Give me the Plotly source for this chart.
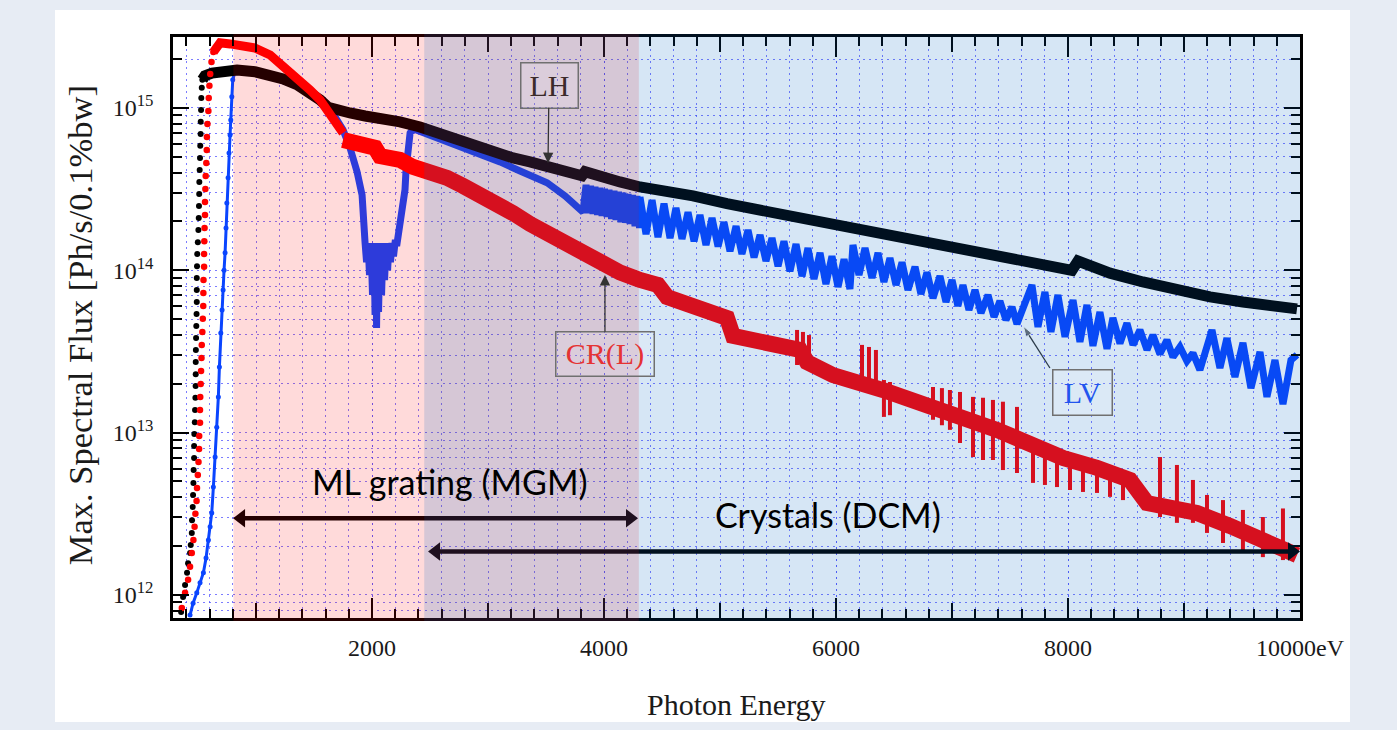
import plotly.graph_objects as go

# ---------------- data (photon energy in eV, flux in Ph/s/0.1%bw) ----------------
# LH (black)
lh_rise_energy = [354, 371, 388, 405, 414, 431, 437, 446, 448, 454,
                  457, 460, 462, 466, 466, 468, 472, 474, 477, 479,
                  480, 480, 481, 483, 485, 487, 489, 489, 489, 491,
                  493, 498, 503, 506, 508, 510, 511, 514, 517, 519,
                  522, 523, 526, 528, 532, 537]
lh_rise_flux = [7.85e11, 9.72e11, 1.15e12, 1.37e12, 1.57e12, 1.81e12, 2.03e12, 2.41e12, 2.89e12, 3.48e12,
                4.13e12, 4.90e12, 5.88e12, 6.98e12, 8.27e12, 9.80e12, 1.16e13, 1.38e13, 1.64e13, 1.94e13,
                2.29e13, 2.72e13, 3.23e13, 3.82e13, 4.53e13, 5.38e13, 6.38e13, 7.56e13, 8.96e13, 1.06e14,
                1.26e14, 1.49e14, 1.77e14, 2.10e14, 2.49e14, 2.95e14, 3.50e14, 4.15e14, 4.92e14, 5.84e14,
                6.92e14, 8.21e14, 9.72e14, 1.15e15, 1.33e15, 1.49e15]
lh_energy = [537, 560, 621, 707, 836, 991, 1121, 1233, 1353, 1466,
             1552, 1621, 1681, 1810, 1940, 2069, 2241, 2414, 2586, 2784,
             3017, 3215, 3362, 3509, 3664, 3810, 3836, 3965, 4138, 4310,
             4483, 4767, 5060, 5345, 5629, 5922, 6207, 6491, 6784, 7069,
             7353, 7646, 7931, 8034, 8086, 8189, 8362, 8646, 8939, 9224,
             9508, 9801, 9974]
lh_flux = [1.49e15, 1.58e15, 1.64e15, 1.69e15, 1.71e15, 1.67e15, 1.60e15, 1.51e15, 1.39e15, 1.24e15,
           1.12e15, 1.01e15, 9.72e14, 9.31e14, 8.92e14, 8.66e14, 8.21e14, 7.64e14, 6.92e14, 6.17e14,
           5.35e14, 4.92e14, 4.65e14, 4.40e14, 4.10e14, 3.82e14, 4.05e14, 3.76e14, 3.50e14, 3.26e14,
           3.13e14, 2.87e14, 2.57e14, 2.35e14, 2.16e14, 1.97e14, 1.80e14, 1.63e14, 1.47e14, 1.35e14,
           1.24e14, 1.14e14, 1.03e14, 1.00e14, 1.14e14, 1.06e14, 9.6e13, 8.47e13, 7.56e13, 6.85e13,
           6.38e13, 6.03e13, 5.78e13]

# CR(L) (red)
cr_rise_energy = [360, 388, 414, 431, 446, 460, 470, 477, 487, 491,
                  498, 504, 509, 510, 517, 517, 519, 523, 526, 530,
                  532, 537, 541, 545, 546, 547, 552, 552, 554, 556,
                  560, 560, 563, 566, 571, 575, 576, 581, 589, 592,
                  598, 605, 616, 632]
cr_rise_flux = [8.3e11, 1.03e12, 1.24e12, 1.49e12, 1.81e12, 2.18e12, 2.63e12, 3.16e12, 3.79e12, 4.56e12,
                5.48e12, 6.59e12, 7.93e12, 9.54e12, 1.15e13, 1.38e13, 1.66e13, 1.99e13, 2.40e13, 2.88e13,
                3.47e13, 4.17e13, 5.02e13, 6.02e13, 7.25e13, 8.71e13, 1.05e14, 1.26e14, 1.51e14, 1.82e14,
                2.19e14, 2.63e14, 3.17e14, 3.81e14, 4.58e14, 5.51e14, 6.63e14, 7.97e14, 9.58e14, 1.15e15,
                1.37e15, 1.62e15, 1.92e15, 2.21e15]
cr_top_energy = [632, 664, 690, 776, 862, 991, 1121, 1233, 1353, 1466, 1552, 1612, 1681, 1724, 1750]
cr_top_flux = [2.21e15, 2.44e15, 2.52e15, 2.48e15, 2.44e15, 2.34e15, 2.12e15, 1.81e15, 1.55e15, 1.29e15,
               1.12e15, 9.72e14, 8.44e14, 7.64e14, 7.01e14]
cr_band_energy = [1750, 1828, 1922, 2026, 2069, 2241, 2353, 2500, 2647, 2784,
                  2931, 3078, 3215, 3362, 3509, 3646, 3793, 3965, 4138, 4310,
                  4465, 4543, 4827, 5060, 5112, 5405, 5689, 5750, 5974, 6405,
                  6836, 7094, 7388, 7672, 7956, 8250, 8534, 8681, 8819, 9112,
                  9396, 9681, 9914, 9974]
cr_band_flux = [6.35e14, 6.17e14, 5.92e14, 5.68e14, 5.06e14, 4.78e14, 4.33e14, 4.04e14, 3.71e14, 3.31e14,
                2.95e14, 2.63e14, 2.25e14, 1.93e14, 1.68e14, 1.49e14, 1.31e14, 1.08e14, 9.7e13, 8.71e13,
                8.11e13, 6.85e13, 5.69e13, 5.08e13, 3.94e13, 3.57e13, 3.23e13, 2.72e13, 2.26e13, 1.83e13,
                1.48e13, 1.23e13, 1.04e13, 8.39e12, 6.98e12, 6.06e12, 5.11e12, 3.68e12, 3.48e12, 3.20e12,
                2.66e12, 2.18e12, 1.84e12, 1.76e12]
cr_spike_energy = [5664, 5715, 5767, 6224, 6284, 6344, 6413, 6465, 6836, 6913,
                   6982, 7069, 7181, 7267, 7353, 7439, 7560, 7698, 7801, 7905,
                   8017, 8129, 8250, 8362, 8474, 8793, 8939, 9077, 9198, 9336,
                   9508, 9680, 9853]
cr_spike_top = [4.29e13, 4.17e13, 3.99e13, 3.47e13, 3.37e13, 3.23e13, 2.11e13, 2.05e13, 1.91e13, 1.88e13,
                1.83e13, 1.78e13, 1.66e13, 1.64e13, 1.59e13, 1.55e13, 1.44e13, 9.0e12, 8.39e12, 7.81e12,
                7.49e12, 7.07e12, 6.78e12, 6.32e12, 5.88e12, 7.07e12, 6.32e12, 5.11e12, 4.13e12, 3.84e12,
                3.34e12, 3.02e12, 3.41e12]
cr_spike_bottom = [2.61e13, 2.50e13, 2.43e13, 1.83e13, 1.78e13, 1.71e13, 1.25e13, 1.28e13, 1.20e13, 1.11e13,
                   1.04e13, 8.63e12, 7.07e12, 6.78e12, 6.78e12, 5.88e12, 5.64e12, 4.9e12, 4.76e12, 4.62e12,
                   4.43e12, 4.31e12, 4.25e12, 4.02e12, 3.84e12, 3.02e12, 2.78e12, 2.78e12, 2.41e12, 2.09e12,
                   1.89e12, 1.71e12, 1.64e12]

# LV (blue)
lv_rise_energy = [431, 457, 489, 517, 546, 569, 589, 604, 618, 632,
                  647, 661, 675, 684, 696, 707, 716, 724, 733, 741,
                  748, 759, 767, 776, 782, 791, 799, 819]
lv_rise_flux = [7.52e11, 8.9e11, 1.03e12, 1.19e12, 1.37e12, 1.69e12, 2.18e12, 2.63e12, 3.20e12, 4.62e12,
                7.07e12, 1.08e13, 1.66e13, 2.54e13, 4.11e13, 5.69e13, 7.56e13, 1.00e14, 1.28e14, 1.82e14,
                2.60e14, 3.71e14, 5.28e14, 6.82e14, 8.44e14, 1.17e15, 1.49e15, 1.67e15]
lv_energy = [819, 905, 1017, 1121, 1241, 1353, 1466, 1552, 1612, 1681, 1750, 1810, 1871, 1914, 1940,
             1953, 1966, 1978, 1991, 2004, 2017, 2026, 2034, 2039, 2047, 2056, 2069, 2082, 2095, 2108,
             2121, 2134, 2147, 2159, 2172, 2185, 2198, 2216,
             2241, 2267, 2284, 2293, 2302, 2310, 2328, 2353, 2474, 2672, 2931, 3103, 3276, 3509, 3664, 3819,
             3845, 3862, 3884, 3905, 3922, 3944, 3965, 3983, 4004, 4026, 4043, 4065, 4086, 4103, 4125, 4146,
             4164, 4185, 4207, 4224, 4246, 4267, 4284, 4306,
             4310, 4362, 4414, 4465, 4517, 4569, 4620, 4672, 4724, 4776, 4827, 4879, 4931, 4983, 5034, 5086,
             5138, 5189, 5241, 5293, 5345, 5396, 5448, 5500, 5551, 5603, 5655, 5707, 5758, 5810, 5862, 5913,
             5965, 6017, 6069, 6120,
             6146, 6198, 6250, 6310, 6362, 6413, 6465, 6517, 6569, 6620, 6681, 6732, 6784, 6836, 6896, 6948,
             7000, 7051, 7094, 7146, 7198, 7250, 7310, 7362, 7413, 7465, 7517, 7560,
             7689, 7741, 7801, 7853, 7913, 7974, 8043, 8103, 8163, 8215, 8275, 8336, 8387, 8448, 8508, 8560,
             8620, 8681, 8732, 8792, 8853, 8905, 8965, 9025, 9077, 9137,
             9241, 9310, 9370, 9439, 9508, 9577, 9655, 9715, 9784, 9853, 9922, 9974]
lv_flux = [1.67e15, 1.69e15, 1.67e15, 1.58e15, 1.49e15, 1.37e15, 1.20e15, 1.10e15, 1.00e15, 8.80e14, 7.32e14,
           5.68e14, 4.04e14, 2.91e14, 1.47e14,
           1.12e14, 1.47e14, 9.35e13, 1.47e14, 7.04e13, 1.47e14, 5.31e13, 1.43e14, 4.41e13, 1.43e14, 5.53e13,
           1.47e14, 7.04e13, 1.47e14, 8.71e13, 1.47e14, 1.00e14, 1.47e14, 1.12e14, 1.47e14, 1.22e14, 1.47e14,
           1.47e14,
           1.90e14, 2.53e14, 3.13e14, 4.15e14, 5.13e14, 5.92e14, 7.01e14, 7.44e14, 6.92e14, 6.09e14, 5.20e14,
           4.65e14, 4.09e14, 3.46e14, 2.87e14, 2.28e14,
           3.36e14, 2.25e14, 3.31e14, 2.22e14, 3.27e14, 2.19e14, 3.22e14, 2.16e14, 3.18e14, 2.13e14, 3.13e14,
           2.07e14, 3.09e14, 2.04e14, 3.04e14, 1.98e14, 3.00e14, 1.96e14, 2.95e14, 1.93e14, 2.91e14, 1.87e14,
           2.87e14, 1.82e14,
           2.83e14, 1.67e14, 2.71e14, 1.60e14, 2.57e14, 1.58e14, 2.42e14, 1.56e14, 2.28e14, 1.51e14, 2.19e14,
           1.43e14, 2.10e14, 1.40e14, 1.98e14, 1.31e14, 1.87e14, 1.26e14, 1.77e14, 1.20e14, 1.65e14, 1.14e14,
           1.58e14, 1.06e14, 1.51e14, 9.86e13, 1.45e14, 9.2e13, 1.37e14, 8.83e13, 1.28e14, 8.23e13, 1.22e14,
           7.9e13, 1.17e14, 7.67e13,
           1.43e14, 9.35e13, 1.37e14, 8.96e13, 1.28e14, 8.47e13, 1.19e14, 8.11e13, 1.12e14, 7.56e13, 1.05e14,
           7.14e13, 9.7e13, 6.74e13, 9.2e13, 6.38e13, 8.71e13, 6.03e13, 8.11e13, 5.69e13, 7.56e13, 5.45e13,
           7.04e13, 5.16e13, 6.47e13, 4.94e13, 5.94e13, 4.67e13,
           8.11e13, 4.48e13, 7.35e13, 4.17e13, 7.04e13, 3.89e13, 6.56e13, 3.62e13, 6.11e13, 3.42e13, 5.53e13,
           3.28e13, 5.08e13, 3.54e13, 4.73e13, 3.47e13, 4.29e13, 3.23e13, 3.99e13, 3.05e13, 3.72e13, 2.92e13,
           3.37e13, 2.76e13, 3.09e13, 2.43e13,
           4.29e13, 2.50e13, 3.82e13, 2.20e13, 3.57e13, 1.88e13, 3.14e13, 1.66e13, 2.80e13, 1.50e13, 2.80e13,
           3.01e13]

# monochromator ranges (eV) and the flux level at which their arrows are drawn
mgm_range = [802, 4293]
mgm_arrow_flux = 2.97e12
dcm_range = [2483, 10000]
dcm_arrow_flux = 1.85e12

# LV pointer: from label box corner to the curve
lv_pointer_energy = [7844, 7615]
lv_pointer_flux = [2.50e13, 4.52e13]

# axis ticks
x_label_values = [2000, 4000, 6000, 8000, 10000]
x_label_texts = ['2000', '4000', '6000', '8000', '10000eV']
x_mid_ticks = [1000, 3000, 5000, 7000, 9000]
y_tick_values = [1e12, 1e13, 1e14, 1e15]
y_tick_labels = ['10<sup>12</sup>', '10<sup>13</sup>', '10<sup>14</sup>', '10<sup>15</sup>']
y_minor_values = [m * 10.0 ** d for d in range(11, 16) for m in range(2, 10)]

# ---------------- styling ----------------
BLACK = '#000000'
RED = '#ff0000'
BLUE = '#0a45ff'
GRID = 'rgba(80,80,255,0.75)'
GRID_DASH = '2px,4px'
SERIF = 'Liberation Serif'
EV_PER_PX = (10000 - 284) / 1127.0

fig = go.Figure()

# LV
fig.add_trace(go.Scatter(x=lv_rise_energy, y=lv_rise_flux, mode='lines+markers',
                         line=dict(color=BLUE, width=3), marker=dict(color=BLUE, size=5)))
fig.add_trace(go.Scatter(x=lv_energy, y=lv_flux, mode='lines', line=dict(color=BLUE, width=7)))
# LH
fig.add_trace(go.Scatter(x=lh_rise_energy, y=lh_rise_flux, mode='markers',
                         marker=dict(color=BLACK, size=6)))
fig.add_trace(go.Scatter(x=lh_energy, y=lh_flux, mode='lines', line=dict(color=BLACK, width=11)))
# CR(L)
fig.add_trace(go.Scatter(x=cr_rise_energy, y=cr_rise_flux, mode='markers',
                         marker=dict(color=RED, size=6.5)))
fig.add_trace(go.Scatter(x=cr_top_energy, y=cr_top_flux, mode='lines', line=dict(color=RED, width=9)))
fig.add_trace(go.Scatter(x=cr_band_energy, y=cr_band_flux, mode='lines', line=dict(color=RED, width=16)))
spike_x, spike_y = [], []
for e, t, b in zip(cr_spike_energy, cr_spike_top, cr_spike_bottom):
    spike_x += [e, e, None]
    spike_y += [b, t, None]
fig.add_trace(go.Scatter(x=spike_x, y=spike_y, mode='lines', line=dict(color=RED, width=4),
                         connectgaps=False))

# double-headed range arrows
HEAD = 16
off = HEAD / 2 * EV_PER_PX
for rng, lvl in ((mgm_range, mgm_arrow_flux), (dcm_range, dcm_arrow_flux)):
    fig.add_trace(go.Scatter(x=[rng[0] + off, rng[1] - off], y=[lvl, lvl], mode='lines',
                             line=dict(color='black', width=4.5)))
    fig.add_trace(go.Scatter(x=[rng[0] + off, rng[1] - off], y=[lvl, lvl], mode='markers',
                             marker=dict(symbol=['triangle-left', 'triangle-right'], size=HEAD,
                                         color='black'), cliponaxis=False))

# LV pointer arrow
fig.add_trace(go.Scatter(x=lv_pointer_energy, y=lv_pointer_flux, mode='lines+markers',
                         line=dict(color='#333333', width=1.3),
                         marker=dict(symbol=['circle', 'arrow'], size=[0, 11], color='#333333',
                                     angleref='previous')))

# invisible trace to carry the intermediate-tick axis
fig.add_trace(go.Scatter(x=[284], y=[1e12], xaxis='x2', mode='markers', marker=dict(opacity=0),
                         hoverinfo='skip'))

tickfont = dict(family=SERIF, size=24, color='#1a1a1a')

fig.update_layout(
    width=1397, height=730,
    margin=dict(l=173, r=97, t=37, b=112),
    paper_bgcolor='#e7ecf4', plot_bgcolor='white',
    showlegend=False,
    xaxis=dict(range=[284, 10000], tickmode='array', tickvals=x_label_values, ticktext=x_label_texts,
               ticks='inside', ticklen=20, tickwidth=2, tickcolor='black',
               showline=True, linewidth=2.5, linecolor='black', mirror='ticks',
               showgrid=True, gridcolor=GRID, griddash=GRID_DASH, gridwidth=1, zeroline=False,
               tickfont=tickfont, ticklabelstandoff=6,
               minor=dict(dtick=200, tick0=0, ticks='inside', ticklen=9, tickwidth=1.5, tickcolor='black',
                          showgrid=True, gridcolor=GRID, griddash=GRID_DASH, gridwidth=1)),
    xaxis2=dict(range=[284, 10000], overlaying='x', side='bottom', tickmode='array', tickvals=x_mid_ticks,
                ticks='inside', ticklen=15, tickwidth=2, tickcolor='black', showticklabels=False,
                showgrid=False, showline=False, zeroline=False, mirror='ticks'),
    yaxis=dict(type='log', range=[11.858, 15.437], tickmode='array', tickvals=y_tick_values,
               ticktext=y_tick_labels,
               ticks='inside', ticklen=16, tickwidth=2, tickcolor='black',
               showline=True, linewidth=2.5, linecolor='black', mirror='ticks',
               showgrid=True, gridcolor=GRID, griddash=GRID_DASH, gridwidth=1, zeroline=False,
               tickfont=tickfont, ticklabelstandoff=12,
               minor=dict(tickmode='array', tickvals=y_minor_values, ticks='inside', ticklen=9,
                          tickwidth=1.5, tickcolor='black',
                          showgrid=True, gridcolor=GRID, griddash=GRID_DASH, gridwidth=1)),
)

# white panel and coloured monochromator ranges
fig.add_shape(type='rect', xref='paper', yref='paper', x0=-0.1047, x1=1.0444, y0=-0.179, y1=1.0465,
              fillcolor='white', line=dict(width=0), layer='below')
fig.add_shape(type='rect', xref='x', yref='paper', x0=805, x1=4300, y0=-0.005, y1=1.005,
              fillcolor='rgba(255,0,0,0.145)', line=dict(width=0), layer='above')
fig.add_shape(type='rect', xref='x', yref='paper', x0=2450, x1=10025, y0=-0.005, y1=1.005,
              fillcolor='rgba(0,100,190,0.16)', line=dict(width=0), layer='above')

box = dict(bordercolor='#707070', borderwidth=1.5, borderpad=3, bgcolor='rgba(255,255,255,0.12)',
           showarrow=True, arrowhead=2, arrowsize=1.6, arrowwidth=1.3, arrowcolor='#333333',
           standoff=0, xref='x', yref='paper', axref='pixel', ayref='pixel')
annotations = [
    dict(x=0.4996, y=-0.1497, xref='paper', yref='paper', text='Photon Energy', showarrow=False,
         xanchor='center', yanchor='middle', font=dict(family=SERIF, size=30, color='#1a1a1a')),
    dict(x=-0.0825, y=0.504, xref='paper', yref='paper', text='Max. Spectral Flux [Ph/s/0.1%bw]',
         textangle=-90, showarrow=False, xanchor='center', yanchor='middle',
         font=dict(family=SERIF, size=34.5, color='#1a1a1a')),
    dict(x=0.2458, y=0.2341, xref='paper', yref='paper', text='ML grating (MGM)', showarrow=False,
         xanchor='center', yanchor='middle', font=dict(family='Lato', size=34, color='black')),
    dict(x=0.5812, y=0.1773, xref='paper', yref='paper', text='Crystals (DCM)', showarrow=False,
         xanchor='center', yanchor='middle', font=dict(family='Lato', size=34, color='black')),
    dict(box, x=3517, y=0.7831, ax=1, ay=-78, text='LH', width=50, height=38,
         font=dict(family=SERIF, size=30, color='#3b2b2b')),
    dict(box, x=4008, y=0.5904, ax=0, ay=79, text='CR(L)', width=91, height=37,
         font=dict(family=SERIF, size=30, color='#e53333')),
    dict(x=8129, y=0.3873, xref='x', yref='paper', text='LV', showarrow=False, width=52, height=38,
         xanchor='center', yanchor='middle',
         bordercolor='#707070', borderwidth=1.5, borderpad=3, bgcolor='rgba(255,255,255,0.12)',
         font=dict(family=SERIF, size=30, color='#2255ee')),
]
fig.update_layout(annotations=annotations)

fig.write_html('out.html', config={'displayModeBar': False},
               post_script="document.body.style.margin='0px';"
                           "document.body.style.background='#e7ecf4';"
                           "document.body.style.overflow='hidden';")
